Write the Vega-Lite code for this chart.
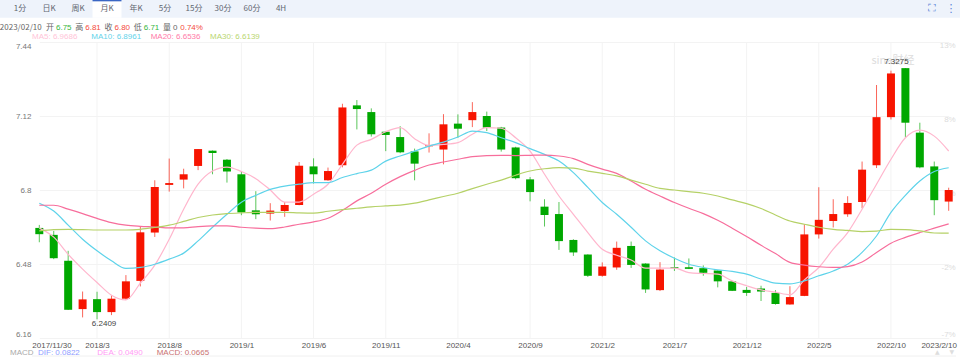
{"$schema":"https://vega.github.io/schema/vega-lite/v6.json","width":924,"height":296,"autosize":{"type":"none"},"padding":{"left":32,"top":42,"right":4,"bottom":21},"background":"white",
"config":{"view":{"stroke":null},"text":{"font":"Liberation Sans","fontSize":8}},
"datasets":{"bars":[
{"m":"2017/11/30","dir":"down","o":6.636,"c":6.609,"h":6.649,"l":6.574,"ma5":6.635,"ma10":6.743,"ma20":6.734,"ma30":6.623},
{"m":"2017/12","dir":"down","o":6.606,"c":6.505,"h":6.623,"l":6.501,"ma5":6.596,"ma10":6.709,"ma20":6.734,"ma30":6.629},
{"m":"2018/1","dir":"down","o":6.494,"c":6.282,"h":6.537,"l":6.281,"ma5":6.522,"ma10":6.648,"ma20":6.717,"ma30":6.630},
{"m":"2018/2","dir":"up","o":6.285,"c":6.327,"h":6.361,"l":6.249,"ma5":6.458,"ma10":6.587,"ma20":6.698,"ma30":6.629},
{"m":"2018/3","dir":"down","o":6.328,"c":6.272,"h":6.360,"l":6.2409,"ma5":6.400,"ma10":6.537,"ma20":6.677,"ma30":6.627},
{"m":"2018/4","dir":"up","o":6.272,"c":6.330,"h":6.345,"l":6.259,"ma5":6.345,"ma10":6.494,"ma20":6.659,"ma30":6.627},
{"m":"2018/5","dir":"up","o":6.330,"c":6.405,"h":6.432,"l":6.324,"ma5":6.325,"ma10":6.461,"ma20":6.648,"ma30":6.627},
{"m":"2018/6","dir":"up","o":6.407,"c":6.617,"h":6.640,"l":6.383,"ma5":6.397,"ma10":6.465,"ma20":6.643,"ma30":6.630},
{"m":"2018/7","dir":"up","o":6.616,"c":6.813,"h":6.842,"l":6.597,"ma5":6.475,"ma10":6.479,"ma20":6.640,"ma30":6.638},
{"m":"2018/8","dir":"up","o":6.822,"c":6.830,"h":6.936,"l":6.793,"ma5":6.587,"ma10":6.501,"ma20":6.636,"ma30":6.648},
{"m":"2018/9","dir":"up","o":6.845,"c":6.868,"h":6.892,"l":6.807,"ma5":6.717,"ma10":6.527,"ma20":6.636,"ma30":6.664},
{"m":"2018/10","dir":"up","o":6.904,"c":6.977,"h":6.977,"l":6.886,"ma5":6.825,"ma10":6.580,"ma20":6.642,"ma30":6.681},
{"m":"2018/11","dir":"down","o":6.970,"c":6.960,"h":6.971,"l":6.868,"ma5":6.882,"ma10":6.639,"ma20":6.645,"ma30":6.692},
{"m":"2018/12","dir":"down","o":6.931,"c":6.880,"h":6.934,"l":6.832,"ma5":6.899,"ma10":6.695,"ma20":6.645,"ma30":6.698},
{"m":"2019/1","dir":"down","o":6.868,"c":6.703,"h":6.880,"l":6.691,"ma5":6.880,"ma10":6.747,"ma20":6.639,"ma30":6.701},
{"m":"2019/2","dir":"down","o":6.712,"c":6.695,"h":6.795,"l":6.674,"ma5":6.849,"ma10":6.777,"ma20":6.635,"ma30":6.703},
{"m":"2019/3","dir":"up","o":6.698,"c":6.711,"h":6.743,"l":6.668,"ma5":6.800,"ma10":6.803,"ma20":6.633,"ma30":6.703},
{"m":"2019/4","dir":"up","o":6.709,"c":6.735,"h":6.748,"l":6.684,"ma5":6.748,"ma10":6.817,"ma20":6.640,"ma30":6.703},
{"m":"2019/5","dir":"up","o":6.735,"c":6.905,"h":6.921,"l":6.734,"ma5":6.748,"ma10":6.825,"ma20":6.652,"ma30":6.701},
{"m":"2019/6","dir":"down","o":6.902,"c":6.868,"h":6.937,"l":6.828,"ma5":6.782,"ma10":6.832,"ma20":6.662,"ma30":6.700},
{"m":"2019/7","dir":"up","o":6.842,"c":6.882,"h":6.897,"l":6.840,"ma5":6.825,"ma10":6.832,"ma20":6.678,"ma30":6.708},
{"m":"2019/8","dir":"up","o":6.907,"c":7.157,"h":7.173,"l":6.898,"ma5":6.911,"ma10":6.854,"ma20":6.712,"ma30":6.715},
{"m":"2019/9","dir":"down","o":7.166,"c":7.150,"h":7.189,"l":7.062,"ma5":6.994,"ma10":6.871,"ma20":6.753,"ma30":6.721},
{"m":"2019/10","dir":"down","o":7.137,"c":7.041,"h":7.153,"l":7.031,"ma5":7.019,"ma10":6.886,"ma20":6.786,"ma30":6.727},
{"m":"2019/11","dir":"down","o":7.052,"c":7.038,"h":7.054,"l":6.968,"ma5":7.052,"ma10":6.925,"ma20":6.825,"ma30":6.731},
{"m":"2019/12","dir":"down","o":7.029,"c":6.963,"h":7.076,"l":6.959,"ma5":7.070,"ma10":6.947,"ma20":6.858,"ma30":6.735},
{"m":"2020/1","dir":"down","o":6.967,"c":6.914,"h":6.979,"l":6.842,"ma5":7.022,"ma10":6.968,"ma20":6.885,"ma30":6.743},
{"m":"2020/2","dir":"up","o":6.989,"c":6.993,"h":7.045,"l":6.962,"ma5":6.993,"ma10":6.990,"ma20":6.908,"ma30":6.757},
{"m":"2020/3","dir":"up","o":6.975,"c":7.084,"h":7.128,"l":6.911,"ma5":6.997,"ma10":7.007,"ma20":6.921,"ma30":6.772},
{"m":"2020/4","dir":"down","o":7.087,"c":7.065,"h":7.127,"l":7.026,"ma5":7.005,"ma10":7.029,"ma20":6.933,"ma30":6.786},
{"m":"2020/5","dir":"up","o":7.102,"c":7.137,"h":7.180,"l":7.072,"ma5":7.041,"ma10":7.055,"ma20":6.944,"ma30":6.806},
{"m":"2020/6","dir":"down","o":7.120,"c":7.070,"h":7.139,"l":7.055,"ma5":7.070,"ma10":7.048,"ma20":6.949,"ma30":6.825},
{"m":"2020/7","dir":"down","o":7.070,"c":6.975,"h":7.073,"l":6.966,"ma5":7.067,"ma10":7.026,"ma20":6.950,"ma30":6.843},
{"m":"2020/8","dir":"down","o":6.984,"c":6.851,"h":6.987,"l":6.846,"ma5":7.026,"ma10":7.005,"ma20":6.949,"ma30":6.864},
{"m":"2020/9","dir":"down","o":6.846,"c":6.791,"h":6.856,"l":6.751,"ma5":6.968,"ma10":6.979,"ma20":6.950,"ma30":6.882},
{"m":"2020/10","dir":"down","o":6.728,"c":6.692,"h":6.760,"l":6.642,"ma5":6.868,"ma10":6.954,"ma20":6.951,"ma30":6.892},
{"m":"2020/11","dir":"down","o":6.696,"c":6.579,"h":6.748,"l":6.541,"ma5":6.774,"ma10":6.925,"ma20":6.947,"ma30":6.897},
{"m":"2020/12","dir":"down","o":6.584,"c":6.530,"h":6.587,"l":6.515,"ma5":6.695,"ma10":6.875,"ma20":6.936,"ma30":6.895},
{"m":"2021/1","dir":"down","o":6.521,"c":6.429,"h":6.522,"l":6.424,"ma5":6.616,"ma10":6.811,"ma20":6.911,"ma30":6.882},
{"m":"2021/2","dir":"up","o":6.429,"c":6.469,"h":6.487,"l":6.425,"ma5":6.544,"ma10":6.746,"ma20":6.890,"ma30":6.872},
{"m":"2021/3","dir":"up","o":6.465,"c":6.550,"h":6.577,"l":6.455,"ma5":6.518,"ma10":6.695,"ma20":6.872,"ma30":6.861},
{"m":"2021/4","dir":"down","o":6.558,"c":6.476,"h":6.577,"l":6.463,"ma5":6.497,"ma10":6.639,"ma20":6.839,"ma30":6.843},
{"m":"2021/5","dir":"down","o":6.482,"c":6.370,"h":6.483,"l":6.355,"ma5":6.462,"ma10":6.580,"ma20":6.803,"ma30":6.825},
{"m":"2021/6","dir":"up","o":6.367,"c":6.456,"h":6.488,"l":6.363,"ma5":6.462,"ma10":6.537,"ma20":6.774,"ma30":6.807},
{"m":"2021/7","dir":"down","o":6.466,"c":6.462,"h":6.508,"l":6.450,"ma5":6.462,"ma10":6.505,"ma20":6.746,"ma30":6.800},
{"m":"2021/8","dir":"down","o":6.466,"c":6.459,"h":6.504,"l":6.458,"ma5":6.443,"ma10":6.479,"ma20":6.721,"ma30":6.793},
{"m":"2021/9","dir":"down","o":6.462,"c":6.442,"h":6.474,"l":6.429,"ma5":6.439,"ma10":6.465,"ma20":6.698,"ma30":6.786},
{"m":"2021/10","dir":"down","o":6.452,"c":6.405,"h":6.453,"l":6.379,"ma5":6.436,"ma10":6.455,"ma20":6.669,"ma30":6.774},
{"m":"2021/11","dir":"down","o":6.405,"c":6.364,"h":6.406,"l":6.363,"ma5":6.407,"ma10":6.448,"ma20":6.635,"ma30":6.757},
{"m":"2021/12","dir":"down","o":6.368,"c":6.355,"h":6.381,"l":6.342,"ma5":6.386,"ma10":6.436,"ma20":6.599,"ma30":6.741},
{"m":"2022/1","dir":"down","o":6.374,"c":6.361,"h":6.386,"l":6.320,"ma5":6.368,"ma10":6.415,"ma20":6.561,"ma30":6.720},
{"m":"2022/2","dir":"down","o":6.355,"c":6.307,"h":6.367,"l":6.304,"ma5":6.358,"ma10":6.397,"ma20":6.525,"ma30":6.692},
{"m":"2022/3","dir":"up","o":6.305,"c":6.337,"h":6.384,"l":6.304,"ma5":6.347,"ma10":6.394,"ma20":6.487,"ma30":6.666},
{"m":"2022/4","dir":"up","o":6.342,"c":6.608,"h":6.652,"l":6.341,"ma5":6.411,"ma10":6.407,"ma20":6.475,"ma30":6.652},
{"m":"2022/5","dir":"up","o":6.608,"c":6.671,"h":6.812,"l":6.590,"ma5":6.465,"ma10":6.429,"ma20":6.468,"ma30":6.639},
{"m":"2022/6","dir":"up","o":6.666,"c":6.696,"h":6.760,"l":6.638,"ma5":6.544,"ma10":6.450,"ma20":6.465,"ma30":6.630},
{"m":"2022/7","dir":"up","o":6.695,"c":6.744,"h":6.773,"l":6.684,"ma5":6.616,"ma10":6.479,"ma20":6.469,"ma30":6.625},
{"m":"2022/8","dir":"up","o":6.748,"c":6.888,"h":6.923,"l":6.721,"ma5":6.717,"ma10":6.530,"ma20":6.489,"ma30":6.620},
{"m":"2022/9","dir":"up","o":6.907,"c":7.115,"h":7.254,"l":6.895,"ma5":6.825,"ma10":6.601,"ma20":6.530,"ma30":6.622},
{"m":"2022/10","dir":"up","o":7.115,"c":7.304,"h":7.316,"l":7.105,"ma5":6.933,"ma10":6.703,"ma20":6.570,"ma30":6.630},
{"m":"2022/11","dir":"down","o":7.327,"c":7.091,"h":7.3275,"l":7.028,"ma5":7.026,"ma10":6.777,"ma20":6.595,"ma30":6.629},
{"m":"2022/12","dir":"down","o":7.048,"c":6.898,"h":7.091,"l":6.894,"ma5":7.059,"ma10":6.839,"ma20":6.616,"ma30":6.623},
{"m":"2023/1","dir":"down","o":6.902,"c":6.756,"h":6.923,"l":6.691,"ma5":7.033,"ma10":6.880,"ma20":6.635,"ma30":6.614},
{"m":"2023/2/10","dir":"up","o":6.75,"c":6.80,"h":6.81,"l":6.71,"ma5":6.9686,"ma10":6.8961,"ma20":6.6536,"ma30":6.6139}
]},
"layer":[
{"data":{"values":[{"a":-0.2,"b":33,"t":-0.9,"u":0.97,"k":"bg"},{"a":3,"b":4,"t":-0.9,"u":0.97,"k":"sel"},{"a":3,"b":4,"t":-0.9,"u":-0.75,"k":"top"}]},
 "mark":{"type":"rect"},
 "encoding":{"x":{"field":"a","type":"quantitative","axis":null,"scale":{"domain":[0,10],"range":[-26.5,263.5],"nice":false,"zero":false}},"x2":{"field":"b"},
 "y":{"field":"t","type":"quantitative","axis":null,"scale":{"domain":[0,36],"range":[-33.5,310.5],"nice":false,"zero":false}},"y2":{"field":"u"},
 "color":{"field":"k","type":"nominal","legend":null,"scale":{"domain":["bg","sel","top"],"range":["#eef3fb","#ffffff","#3a66c4"]}}}},
{"data":{"values":[{"tab":"1分","slot":0.5,"line":0},{"tab":"日K","slot":1.5,"line":0},{"tab":"周K","slot":2.5,"line":0},{"tab":"月K","slot":3.5,"line":0},{"tab":"年K","slot":4.5,"line":0},{"tab":"5分","slot":5.5,"line":0},{"tab":"15分","slot":6.5,"line":0},{"tab":"30分","slot":7.5,"line":0},{"tab":"60分","slot":8.5,"line":0},{"tab":"4H","slot":9.5,"line":0}]},
 "mark":{"type":"text","font":"Noto Sans CJK SC","fontSize":8,"color":"#5f6670"},
 "encoding":{"x":{"field":"slot","type":"quantitative","axis":null,"scale":{"domain":[0,10],"range":[-26.5,263.5],"nice":false,"zero":false}},
 "y":{"field":"line","type":"quantitative","axis":null,"scale":{"domain":[0,36],"range":[-33.5,310.5],"nice":false,"zero":false}},"text":{"field":"tab"}}},
{"data":{"values":[{"icon":"⛶","slot":31.95,"line":0},{"icon":"⋮","slot":32.6,"line":0}]},
 "mark":{"type":"text","font":"DejaVu Sans","fontSize":11,"color":"#5b86d8"},
 "encoding":{"x":{"field":"slot","type":"quantitative","axis":null,"scale":{"domain":[0,10],"range":[-26.5,263.5],"nice":false,"zero":false}},
 "y":{"field":"line","type":"quantitative","axis":null,"scale":{"domain":[0,36],"range":[-33.5,310.5],"nice":false,"zero":false}},"text":{"field":"icon"}}},
{"data":{"values":[{"stat":"日","label":"2023/02/10","line":2},{"stat":"开","label":"开","line":2},{"stat":"高","label":"高","line":2},{"stat":"收","label":"收","line":2},{"stat":"低","label":"低","line":2},{"stat":"量","label":"量","line":2}]},
 "mark":{"type":"text","font":"Noto Sans CJK SC","fontSize":8,"color":"#666666"},
 "encoding":{"x":{"field":"stat","type":"nominal","axis":null,"scale":{"type":"point","domain":["日","开","高","收","低","量","幅"],"range":[-11.25,164.25],"padding":0}},
 "y":{"field":"line","type":"quantitative","axis":null,"scale":{"domain":[0,36],"range":[-33.5,310.5],"nice":false,"zero":false}},"text":{"field":"label"}}},
{"data":{"values":[{"stat":"开","value":"6.75","dir":"down","line":2},{"stat":"高","value":"6.81","dir":"up","line":2},{"stat":"收","value":"6.80","dir":"up","line":2},{"stat":"低","value":"6.71","dir":"down","line":2},{"stat":"量","value":"0","dir":"flat","line":2}]},
 "mark":{"type":"text","align":"left","dx":6,"fontSize":8},
 "encoding":{"x":{"field":"stat","type":"nominal","axis":null,"scale":{"type":"point","domain":["日","开","高","收","低","量","幅"],"range":[-11.25,164.25],"padding":0}},
 "y":{"field":"line","type":"quantitative","axis":null,"scale":{"domain":[0,36],"range":[-33.5,310.5],"nice":false,"zero":false}},"text":{"field":"value"},
 "color":{"field":"dir","type":"nominal","legend":null,"scale":{"domain":["up","down","flat"],"range":["#f44a3c","#35b53c","#666666"]}}}},
{"data":{"values":[{"stat":"幅","value":"0.74%","line":2}]},
 "mark":{"type":"text","align":"left","dx":-16,"fontSize":8,"color":"#f44a3c"},
 "encoding":{"x":{"field":"stat","type":"nominal","axis":null,"scale":{"type":"point","domain":["日","开","高","收","低","量","幅"],"range":[-11.25,164.25],"padding":0}},
 "y":{"field":"line","type":"quantitative","axis":null,"scale":{"domain":[0,36],"range":[-33.5,310.5],"nice":false,"zero":false}},"text":{"field":"value"}}},
{"data":{"values":[{"col":"c1","t":"MA5: 6.9686","s":"MA5","line":3},{"col":"c2","t":"MA10: 6.8961","s":"MA10","line":3},{"col":"c3","t":"MA20: 6.6536","s":"MA20","line":3},{"col":"c4","t":"MA30: 6.6139","s":"MA30","line":3}]},
 "mark":{"type":"text","align":"left","fontSize":8},
 "encoding":{"x":{"field":"col","type":"nominal","axis":null,"scale":{"type":"point","domain":["c1","c2","c3","c4"],"range":[0,178],"padding":0}},
 "y":{"field":"line","type":"quantitative","axis":null,"scale":{"domain":[0,36],"range":[-33.5,310.5],"nice":false,"zero":false}},"text":{"field":"t"},
 "color":{"field":"s","type":"nominal","legend":null,"scale":{"domain":["MA5","MA10","MA20","MA30"],"range":["#ffc4d8","#63d3ea","#ff7aa8","#b9d670"]}}}},
{"data":{"values":[{"col":"c1","t":"DIF: 0.0822","s":"DIF","line":36},{"col":"c2","t":"DEA: 0.0490","s":"DEA","line":36},{"col":"c3","t":"MACD: 0.0665","s":"MACD","line":36}]},
 "mark":{"type":"text","align":"left","dx":6,"fontSize":8},
 "encoding":{"x":{"field":"col","type":"nominal","axis":null,"scale":{"type":"point","domain":["c1","c2","c3","c4"],"range":[0,178],"padding":0}},
 "y":{"field":"line","type":"quantitative","axis":null,"scale":{"domain":[0,36],"range":[-33.5,310.5],"nice":false,"zero":false}},"text":{"field":"t"},
 "color":{"field":"s","type":"nominal","legend":null,"scale":{"domain":["DIF","DEA","MACD"],"range":["#8f9dff","#ff9bf5","#c97272"]}}}},
{"data":{"values":[{"col":"c1","t":"MACD","line":36}]},
 "mark":{"type":"text","align":"left","dx":-22,"fontSize":8,"color":"#aaaaaa"},
 "encoding":{"x":{"field":"col","type":"nominal","axis":null,"scale":{"type":"point","domain":["c1","c2","c3","c4"],"range":[0,178],"padding":0}},
 "y":{"field":"line","type":"quantitative","axis":null,"scale":{"domain":[0,36],"range":[-33.5,310.5],"nice":false,"zero":false}},"text":{"field":"t"}}},
{"data":{"name":"bars"},
 "encoding":{"x":{"field":"m","type":"ordinal","title":null,
   "scale":{"type":"point","padding":0,"range":[7.3,916.7],"domain":["2017/11/30","2017/12","2018/1","2018/2","2018/3","2018/4","2018/5","2018/6","2018/7","2018/8","2018/9","2018/10","2018/11","2018/12","2019/1","2019/2","2019/3","2019/4","2019/5","2019/6","2019/7","2019/8","2019/9","2019/10","2019/11","2019/12","2020/1","2020/2","2020/3","2020/4","2020/5","2020/6","2020/7","2020/8","2020/9","2020/10","2020/11","2020/12","2021/1","2021/2","2021/3","2021/4","2021/5","2021/6","2021/7","2021/8","2021/9","2021/10","2021/11","2021/12","2022/1","2022/2","2022/3","2022/4","2022/5","2022/6","2022/7","2022/8","2022/9","2022/10","2022/11","2022/12","2023/1","2023/2/10"]},
   "axis":{"values":["2017/11/30","2018/3","2018/8","2019/1","2019/6","2019/11","2020/4","2020/9","2021/2","2021/7","2021/12","2022/5","2022/10","2023/2/10"],"grid":false,"domain":false,"ticks":false,"tickSize":0,"labelAngle":0,"labelFont":"Liberation Sans","labelFontSize":8,"labelColor":"#555555","labelPadding":3,"labelOverlap":false,"labelOffset":{"expr":"datum.value==='2017/11/30'?12.2:(datum.value==='2023/2/10'?-10:0)"}}}},
 "layer":[
 {"data":{"values":[{"m":"2018/3"},{"m":"2018/8"},{"m":"2019/1"},{"m":"2019/6"},{"m":"2019/11"},{"m":"2020/4"},{"m":"2020/9"},{"m":"2021/2"},{"m":"2021/7"},{"m":"2021/12"},{"m":"2022/5"},{"m":"2022/10"}]},
  "mark":{"type":"rule","color":"#f3f3f3","strokeWidth":1},"encoding":{}},
 {"data":{"values":[{"p":6.082}]},"mark":{"type":"rule","color":"#f0f0f0","strokeWidth":1},"encoding":{"x":null,"y":{"field":"p","type":"quantitative"}}},
 {"mark":{"type":"rule","strokeWidth":1,"opacity":0.65},
  "encoding":{"y":{"field":"l","type":"quantitative","title":null,"scale":{"domain":[6.16,7.44],"nice":false,"zero":false},
    "axis":{"values":[6.16,6.48,6.8,7.12,7.44],"format":".2~f","grid":true,"gridColor":"#f3f3f3","domain":false,"ticks":false,"labelFont":"Liberation Sans","labelFontSize":8,"labelColor":"#777777","labelPadding":1,"labelFlush":true}},
   "y2":{"field":"h"},"color":{"field":"dir","type":"nominal","legend":null,"scale":{"domain":["up","down"],"range":["#f71400","#00a800"]}}}},
 {"data":{"values":[{"m":"2023/2/10","p":7.44,"t":"13%"},{"m":"2023/2/10","p":7.12,"t":"8%"},{"m":"2023/2/10","p":6.8,"t":"3%"},{"m":"2023/2/10","p":6.48,"t":"-2%"}]},"mark":{"type":"text","align":"right","dx":7,"dy":4,"fontSize":8,"color":"#dcdcdc"},"encoding":{"y":{"field":"p","type":"quantitative"},"text":{"field":"t"}}},
 {"data":{"values":[{"m":"2023/2/10","p":6.16,"t":"-7%"}]},"mark":{"type":"text","align":"right","dx":7,"dy":-3,"fontSize":8,"color":"#dcdcdc"},"encoding":{"y":{"field":"p","type":"quantitative"},"text":{"field":"t"}}},
 {"data":{"values":[{"m":"2022/10","p":7.356,"t":"sina财经"}]},"mark":{"type":"text","font":"Noto Sans CJK SC","fontSize":11,"color":"#dddddd","dx":2},"encoding":{"y":{"field":"p","type":"quantitative"},"text":{"field":"t"}}},
 {"mark":{"type":"bar","size":8},
  "encoding":{"y":{"field":"o","type":"quantitative"},"y2":{"field":"c"},"color":{"field":"dir","type":"nominal","legend":null}}},
 {"mark":{"type":"line","interpolate":"monotone","strokeWidth":1.2,"color":"#ffb6cd"},"encoding":{"y":{"field":"ma5","type":"quantitative"}}},
 {"mark":{"type":"line","interpolate":"monotone","strokeWidth":1.2,"color":"#5ed3ea"},"encoding":{"y":{"field":"ma10","type":"quantitative"}}},
 {"mark":{"type":"line","interpolate":"monotone","strokeWidth":1.2,"color":"#f76e9c"},"encoding":{"y":{"field":"ma20","type":"quantitative"}}},
 {"mark":{"type":"line","interpolate":"monotone","strokeWidth":1.2,"color":"#b5d167"},"encoding":{"y":{"field":"ma30","type":"quantitative"}}},
 {"data":{"values":[{"m":"2022/11","p":7.3275,"t":"7.3275"}]},"mark":{"type":"text","fontSize":8,"color":"#444444","dx":-9,"dy":-6},"encoding":{"y":{"field":"p","type":"quantitative"},"text":{"field":"t"}}},
 {"data":{"values":[{"m":"2018/3","p":6.2409,"t":"6.2409"}]},"mark":{"type":"text","fontSize":8,"color":"#444444","dx":7,"dy":5},"encoding":{"y":{"field":"p","type":"quantitative"},"text":{"field":"t"}}},
 {"data":{"values":[{"m":"2023/1","p":6.101,"t":"▲"},{"m":"2023/2/10","p":6.101,"t":"▼"}]},"mark":{"type":"text","font":"DejaVu Sans","fontSize":6,"color":"#dddddd","dx":3},"encoding":{"y":{"field":"p","type":"quantitative"},"text":{"field":"t"}}}
 ]}
],
"resolve":{"scale":{"x":"independent","y":"independent","color":"independent"},"axis":{"x":"independent","y":"independent"}}}
